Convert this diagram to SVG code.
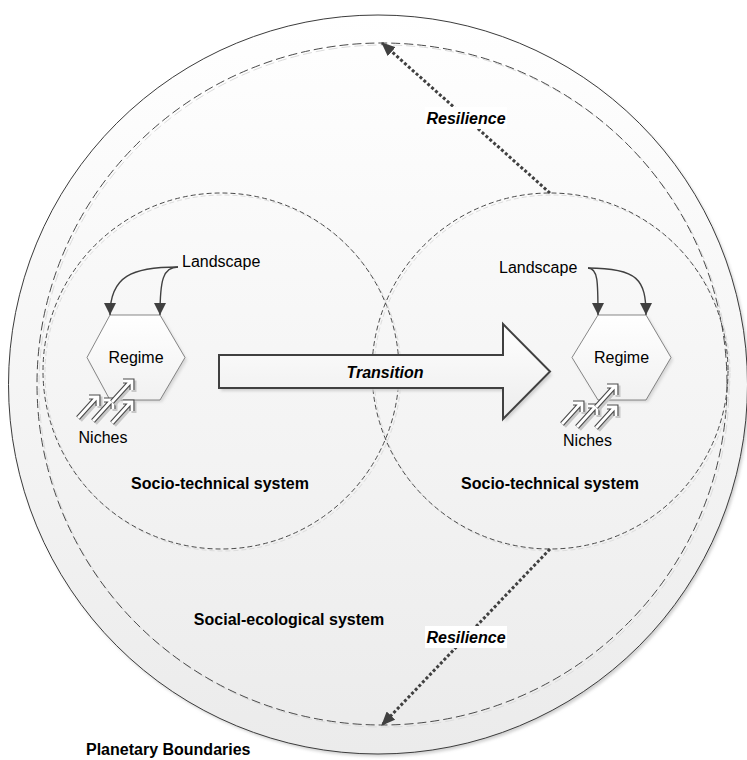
<svg xmlns="http://www.w3.org/2000/svg" width="747" height="760" viewBox="0 0 747 760">
<defs>
  <linearGradient id="gOuter" x1="0" y1="0" x2="0" y2="1">
    <stop offset="0" stop-color="#ffffff"/>
    <stop offset="1" stop-color="#ebebeb"/>
  </linearGradient>
  <linearGradient id="gArrow" x1="0" y1="0" x2="0" y2="1">
    <stop offset="0" stop-color="#ffffff"/>
    <stop offset="1" stop-color="#ececec"/>
  </linearGradient>
  <linearGradient id="gHex" x1="0" y1="0" x2="0" y2="1">
    <stop offset="0" stop-color="#ffffff"/>
    <stop offset="1" stop-color="#f1f1f1"/>
  </linearGradient>
  <filter id="blur" x="-10%" y="-10%" width="120%" height="120%">
    <feGaussianBlur stdDeviation="1.5"/>
  </filter>
  <marker id="triRes" markerUnits="userSpaceOnUse" markerWidth="14" markerHeight="12" refX="13" refY="6" orient="auto">
    <path d="M0,0 L14,6 L0,12 Z" fill="#404040"/>
  </marker>
  <marker id="triLand" markerUnits="userSpaceOnUse" markerWidth="12" markerHeight="12" refX="12" refY="6" orient="auto">
    <path d="M0,0 L12,6 L0,12 Z" fill="#404040"/>
  </marker>
  <g id="niche">
    <path d="M-20,22 L-1,1 M-9,1 L0,1 L0,10" transform="translate(2,2)" class="nsh"/>
    <path d="M-20,22 L-1,1 M-9,1 L0,1 L0,10" class="nout"/>
    <path d="M-20,22 L-1,1 M-9,1 L0,1 L0,10" class="nin"/>
  </g>
  <style>
    .lbl { font-family: "Liberation Sans", Arial, sans-serif; font-size: 16px; fill: #000; }
    .b { font-weight: bold; }
    .bi { font-weight: bold; font-style: italic; }
    .dashL { fill: none; stroke: #4a4a4a; stroke-width: 1; stroke-dasharray: 9 4; }
    .dashS { fill: none; stroke: #4a4a4a; stroke-width: 1; stroke-dasharray: 5 3; }
    .shL { fill: none; stroke: #dcdcdc; stroke-width: 1; stroke-dasharray: 9 4; }
    .shS { fill: none; stroke: #dcdcdc; stroke-width: 1; stroke-dasharray: 5 3; }
    .hex { fill: url(#gHex); stroke: #6a6a6a; stroke-width: 0.8; }
    .hexsh { fill: #d6d6d6; filter: url(#blur); }
    .res { fill: none; stroke: #404040; stroke-width: 3; stroke-dasharray: 3 2.2; }
    .land { fill: none; stroke: #404040; stroke-width: 1.4; }
    .nsh { fill: none; stroke: #c8c8c8; stroke-width: 5; stroke-linejoin: miter; }
    .nout { fill: none; stroke: #4a4a4a; stroke-width: 5; stroke-linejoin: miter; }
    .nin { fill: none; stroke: #ffffff; stroke-width: 2.8; stroke-linejoin: miter; }
  </style>
</defs>

<rect x="0" y="0" width="747" height="760" fill="#ffffff"/>

<g id="planetary-boundaries">
  <circle cx="380" cy="387" r="369.5" fill="#d0d0d0" filter="url(#blur)"/>
  <circle cx="378" cy="384.5" r="369.5" fill="url(#gOuter)" stroke="#3c3c3c" stroke-width="1"/>
  <text class="lbl b" x="86" y="755" font-size="16.5">Planetary Boundaries</text>
</g>

<g id="social-ecological-system">
  <ellipse cx="384" cy="386" rx="345" ry="341" class="shL"/>
  <ellipse cx="382" cy="384" rx="345" ry="341" class="dashL"/>
  <text class="lbl b" x="289" y="624.5" text-anchor="middle">Social-ecological system</text>
</g>

<g id="socio-technical-left">
  <circle cx="223" cy="373" r="178" class="shS"/>
  <circle cx="221" cy="371" r="178" class="dashS"/>
  <text class="lbl b" x="220" y="488.5" text-anchor="middle">Socio-technical system</text>
</g>

<g id="socio-technical-right">
  <circle cx="552" cy="373" r="178" class="shS"/>
  <circle cx="550" cy="371" r="178" class="dashS"/>
  <text class="lbl b" x="550" y="488.5" text-anchor="middle">Socio-technical system</text>
</g>

<g id="transition">
  <polygon points="221,358 505,358 505,327 552,375 505,422 505,391 221,391" fill="#cfcfcf" filter="url(#blur)"/>
  <polygon points="219,355 503,355 503,324 550,371.5 503,419 503,388 219,388" fill="url(#gArrow)" stroke="#404040" stroke-width="2" stroke-linejoin="miter"/>
  <text class="lbl bi" x="385" y="377.5" text-anchor="middle">Transition</text>
</g>

<g id="regime-left">
  <polygon points="112,317 162,317 187,360 162,402 112,402 89,360" class="hexsh"/>
  <polygon points="110,315 160,315 185,357.5 160,400 110,400 87,357.5" class="hex"/>
  <text class="lbl" x="136" y="363" text-anchor="middle">Regime</text>
</g>

<g id="regime-right">
  <polygon points="600,317 648,317 673,360 648,402 600,402 574,360" class="hexsh"/>
  <polygon points="598,315 646,315 671,357.5 646,400 598,400 572,357.5" class="hex"/>
  <text class="lbl" x="621.5" y="363" text-anchor="middle">Regime</text>
</g>

<g id="landscape-left">
  <text class="lbl" x="182" y="266.5">Landscape</text>
</g>

<g id="landscape-right">
  <text class="lbl" x="499" y="272.5">Landscape</text>
</g>

<g id="niches-left">
  <use href="#niche" transform="translate(98,396)"/>
  <use href="#niche" transform="translate(113,399)"/>
  <use href="#niche" transform="translate(132,380)"/>
  <use href="#niche" transform="translate(132,401)"/>
  <text class="lbl" x="103" y="443" text-anchor="middle">Niches</text>
</g>

<g id="niches-right">
  <use href="#niche" transform="translate(582,402)"/>
  <use href="#niche" transform="translate(597,405)"/>
  <use href="#niche" transform="translate(616,385)"/>
  <use href="#niche" transform="translate(616,406)"/>
  <text class="lbl" x="587.5" y="446" text-anchor="middle">Niches</text>
</g>

<g id="connectors">
  <path class="land" d="M178,267 C132,267 110,276 110,315" marker-end="url(#triLand)"/>
  <path class="land" d="M178,267 C163,267 160,280 160,315" marker-end="url(#triLand)"/>
  <path class="land" d="M588,268 C598,268 598,282 598,315" marker-end="url(#triLand)"/>
  <path class="land" d="M588,268 C638,268 646,280 646,315" marker-end="url(#triLand)"/>
  <line class="res" x1="550" y1="193" x2="382" y2="43" marker-end="url(#triRes)"/>
  <line class="res" x1="550" y1="549" x2="382" y2="725" marker-end="url(#triRes)"/>
  <rect x="425" y="107" width="82" height="22" fill="#ffffff"/>
  <text class="lbl bi" x="466" y="124" text-anchor="middle" font-size="15.5">Resilience</text>
  <rect x="425" y="626" width="82" height="22" fill="#ffffff"/>
  <text class="lbl bi" x="466" y="643" text-anchor="middle" font-size="15.5">Resilience</text>
</g>
</svg>
